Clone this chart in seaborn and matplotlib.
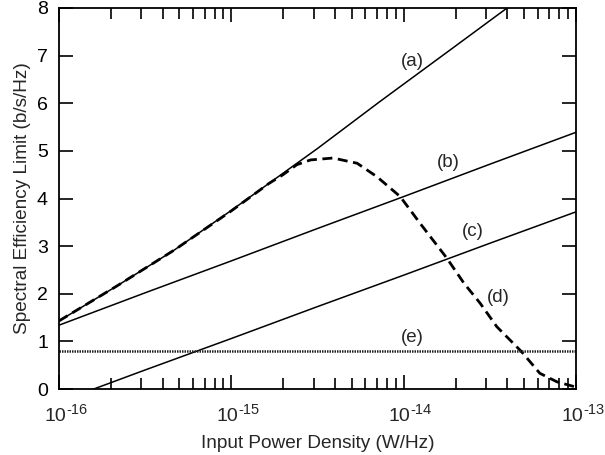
import numpy as np
import pandas as pd
import matplotlib
matplotlib.use("Agg")
import matplotlib.pyplot as plt
import matplotlib.transforms as mtransforms
import seaborn as sns

# ---- data (log10 of input power density, spectral efficiency) ----
a_logx = [-16.0, -15.67, -15.33, -15.0, -14.5, -14.14, -13.7, -13.4, -13.3]
a_y = [1.43, 2.15, 2.92, 3.75, 5.05, 6.03, 7.2, 8.0, 8.27]

b_logx = [-16.0, -15.5, -15.0, -14.5, -14.0, -13.5, -13.0]
b_y = [1.34, 2.02, 2.69, 3.37, 4.04, 4.72, 5.39]

c_logx = [-15.85, -15.5, -15.0, -14.5, -14.0, -13.5, -13.0]
c_y = [-0.07, 0.40, 1.06, 1.73, 2.39, 3.06, 3.72]

d_logx = [-16.0, -15.67, -15.33, -15.0, -14.78, -14.70, -14.62, -14.54, -14.41,
          -14.27, -14.156, -14.02, -13.905, -13.75, -13.65, -13.556, -13.46,
          -13.315, -13.21, -13.11, -13.0]
d_y = [1.43, 2.15, 2.92, 3.74, 4.32, 4.50, 4.71, 4.81, 4.85,
       4.74, 4.46, 4.04, 3.48, 2.75, 2.22, 1.80, 1.31,
       0.78, 0.33, 0.15, 0.04]

e_logx = [-16.0, -13.0]
e_y = [0.8, 0.8]

labels = ["(a)", "(b)", "(c)", "(d)", "(e)"]
label_logx = [-13.951, -13.742, -13.597, -13.452, -13.951]
label_y = [6.87, 4.75, 3.30, 1.93, 1.09]

x_tick_exponents = ["-16", "-15", "-14", "-13"]
x_tick_values = [1e-16, 1e-15, 1e-14, 1e-13]
y_ticks = [0, 1, 2, 3, 4, 5, 6, 7, 8]

x_label = "Input Power Density (W/Hz)"
y_label = "Spectral Efficiency Limit (b/s/Hz)"

# ---- style ----
sns.set_style("ticks")
plt.rcParams["font.family"] = ["Liberation Sans", "DejaVu Sans"]

fig = plt.figure(figsize=(6.05, 4.55), dpi=100)
ax = fig.add_axes([59 / 605, 66 / 455, 517 / 605, 381 / 455])

def frame(lx, y):
    return pd.DataFrame({"x": [10.0 ** v for v in lx], "y": y})

kw = dict(ax=ax, x="x", y="y", estimator=None, sort=False, legend=False)
sns.lineplot(data=frame(a_logx, a_y), color="black", linewidth=1.1, **kw)
sns.lineplot(data=frame(b_logx, b_y), color="black", linewidth=1.1, **kw)
sns.lineplot(data=frame(c_logx, c_y), color="black", linewidth=1.1, **kw)
sns.lineplot(data=frame(d_logx, d_y), color="black", linewidth=2.0, **kw)
ax.lines[-1].set_linestyle((0, (3.6, 2.0)))
sns.lineplot(data=frame(e_logx, e_y), color="#222222", linewidth=1.8, **kw)
ax.lines[-1].set_linestyle((0, (0.6, 0.4)))

for t, lx, ly in zip(labels, label_logx, label_y):
    ax.text(10.0 ** lx, ly, t, ha="center", va="center", fontsize=13.5)

ax.set_xscale("log")
ax.set_xlim(1e-16, 1e-13)
ax.set_ylim(0, 8)
ax.set_xticks(x_tick_values)
ax.set_yticks(y_ticks)

ax.tick_params(which="both", direction="in", top=True, right=True,
               width=1.2, colors="black")
ax.tick_params(which="major", length=10, labelsize=14)
ax.tick_params(axis="x", which="both", labelbottom=False)
ax.tick_params(axis="y", which="major", pad=8)
ax.tick_params(which="minor", length=8)
for s in ax.spines.values():
    s.set_linewidth(1.3)
    s.set_color("black")

# x tick labels as "10" with a hyphenated superscript exponent
xt = ax.get_xaxis_transform()
for v, ex in zip(x_tick_values, x_tick_exponents):
    base_tr = xt + mtransforms.ScaledTranslation(-4 / 100, -19 / 100, fig.dpi_scale_trans)
    ax.text(v, 0, "10", transform=base_tr, ha="center", va="top",
            fontsize=14, clip_on=False)
    exp_tr = xt + mtransforms.ScaledTranslation(7 / 100, -14.5 / 100, fig.dpi_scale_trans)
    ax.text(v, 0, ex, transform=exp_tr, ha="left", va="top",
            fontsize=10.5, clip_on=False)

ax.set_xlabel(x_label, fontsize=13.7)
ax.xaxis.label.set_va("center")
ax.xaxis.set_label_coords(0.5, -0.144)
ax.set_ylabel(y_label, fontsize=13.7, labelpad=4)

fig.savefig("out.png", dpi=100)
